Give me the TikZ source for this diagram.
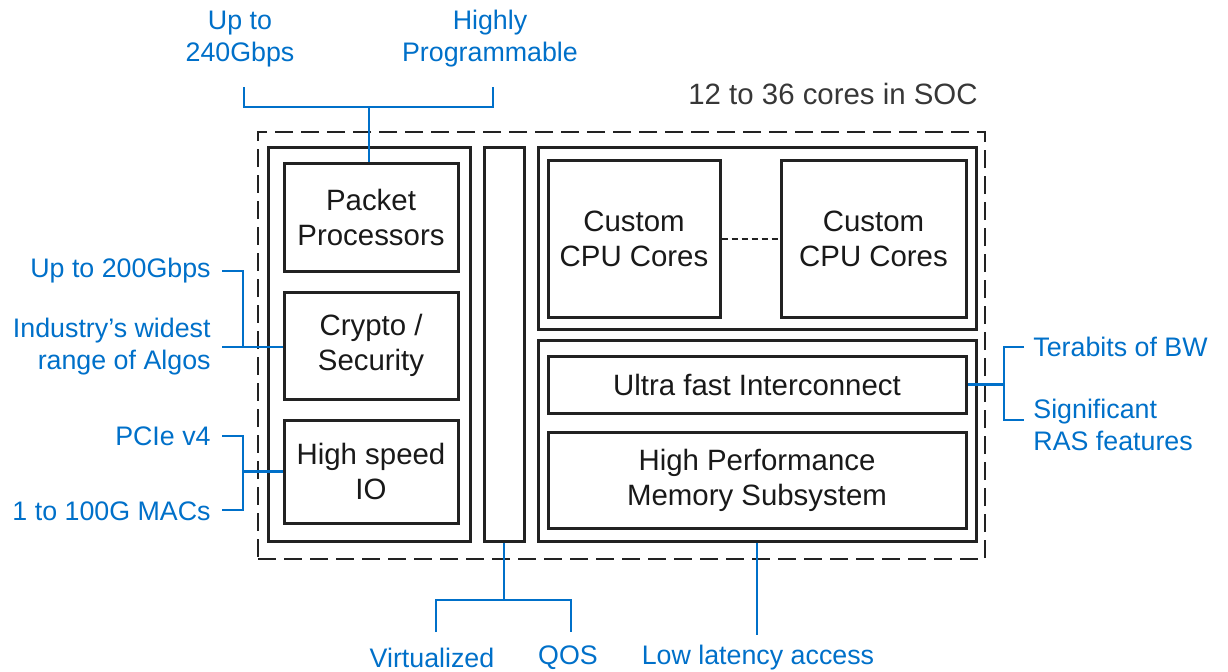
\documentclass[tikz,border=0pt]{standalone}
\usepackage{fontspec}
\setmainfont{Liberation Sans}
\definecolor{bluec}{RGB}{0,112,201}
\definecolor{boxc}{RGB}{34,34,34}
\definecolor{txtc}{RGB}{25,25,25}
\definecolor{grayt}{RGB}{55,55,55}
\newcommand{\bfnt}{\fontsize{14.7}{17.5}\selectfont}
\newcommand{\blfnt}{\fontsize{13.4}{16}\selectfont}
\begin{document}
\begin{tikzpicture}[x=0.5pt,y=-0.5pt,
  box/.style={draw=boxc, line width=1.5pt, rectangle, inner sep=0pt, align=center, font=\bfnt, text=txtc},
  blab/.style={text=bluec, font=\blfnt, inner sep=0pt},
  bline/.style={draw=bluec, line width=1.3pt},
  socbox/.style={draw=boxc, line width=1.25pt, dash pattern=on 9pt off 4pt, rectangle, inner sep=0pt}
]
\useasboundingbox (0,0) rectangle (1228,671);
% outer dashed SOC
\node[socbox, minimum width=363.5pt, minimum height=213.5pt] (soc) at (621.5,345.5) {};
\node[font=\bfnt, text=grayt, inner sep=0pt] (soclab) at (833,94) {12 to 36 cores in SOC};
% left column
\node[box, minimum width=101pt, minimum height=197pt] (lcol) at (369,344) {};
\node[box, minimum width=87pt, minimum height=54pt, text depth=0pt] (pp) at (371,217) {\raisebox{-1pt}{}Packet\\Processors};
\node[box, minimum width=87pt, minimum height=53.5pt] (crypto) at (371,345.5) {Crypto /\\Security};
\node[box, minimum width=87pt, minimum height=51.5pt] (hsio) at (371,471.5) {High speed\\IO};
% middle bar
\node[box, minimum width=20pt, minimum height=197pt] (bar) at (504,344) {};
% right top
\node[box, minimum width=219pt, minimum height=91pt] (rtop) at (757,238) {};
\node[box, minimum width=86pt, minimum height=78.5pt] (cpu1) at (634,238.5) {Custom\\CPU Cores};
\node[box, minimum width=92.5pt, minimum height=78.5pt] (cpu2) at (873.5,238.5) {Custom\\CPU Cores};
\draw[draw=boxc, line width=1pt, dash pattern=on 3pt off 2pt] (cpu1.east) -- (cpu2.west);
% right bottom
\node[box, minimum width=219pt, minimum height=100.5pt] (rbot) at (757,440.5) {};
\node[box, minimum width=209pt, minimum height=28.5pt] (uic) at (757,384.5) {Ultra fast Interconnect};
\node[box, minimum width=209pt, minimum height=48pt] (mem) at (757,480) {High Performance\\Memory Subsystem};

% top labels
\node[blab, align=center] (t1) at (240,39) {Up to\\240Gbps};
\node[blab, align=center] (t2) at (490,39) {Highly\\Programmable};
\coordinate (t1e) at (244,87);
\coordinate (t2e) at (493,87);
\coordinate (tm) at (369,107);
\draw[bline] (t1e) -- (t1e |- tm) -- (t2e |- tm) -- (t2e);
\draw[bline] (tm) -- (tm |- pp.north);

% left labels
\node[blab, anchor=east] (l1) at (211,271) {Up to 200Gbps};
\node[blab, anchor=east, align=right] (l2) at (211,347) {Industry’s widest\\range of Algos};
\node[blab, anchor=east] (l3) at (211,436) {PCIe v4};
\node[blab, anchor=east] (l4) at (211,511) {1 to 100G MACs};
\coordinate (l1e) at (222,271);
\coordinate (l2e) at (222,347);
\coordinate (lv1) at (243,271);
\draw[bline] (l1e) -- (lv1) -- (lv1 |- l2e);
\draw[bline] (l2e) -- (l2e -| crypto.west);
\coordinate (l3e) at (222,436);
\coordinate (l4e) at (222,510);
\coordinate (lv2) at (243,436);
\draw[bline] (l3e) -- (lv2) -- (lv2 |- l4e) -- (l4e);
\draw[bline] (lv2 |- hsio.west) -- (hsio.west);

% bottom labels
\node[blab] (b1) at (432,658) {Virtualized};
\node[blab] (b2) at (568,658) {QOS};
\node[blab] (b3) at (758,658) {Low latency access};
\coordinate (bm) at (504,600);
\coordinate (b1e) at (436,632);
\coordinate (b2e) at (571,632);
\draw[bline] (bar.south) -- (bm);
\draw[bline] (b1e) -- (b1e |- bm) -- (b2e |- bm) -- (b2e);
\coordinate (b3e) at (757,635);
\draw[bline] (rbot.south) -- (b3e);

% right labels
\node[blab, anchor=west] (r1) at (1033,347) {Terabits of BW};
\node[blab, anchor=west, align=left] (r2) at (1033,425) {Significant\\RAS features};
\coordinate (rv) at (1004,347);
\coordinate (r1e) at (1024,347);
\coordinate (r2e) at (1024,420);
\draw[bline] (r1e) -- (rv) -- (rv |- r2e) -- (r2e);
\draw[bline] (uic.east) -- (uic.east -| rv);
\end{tikzpicture}
\end{document}
